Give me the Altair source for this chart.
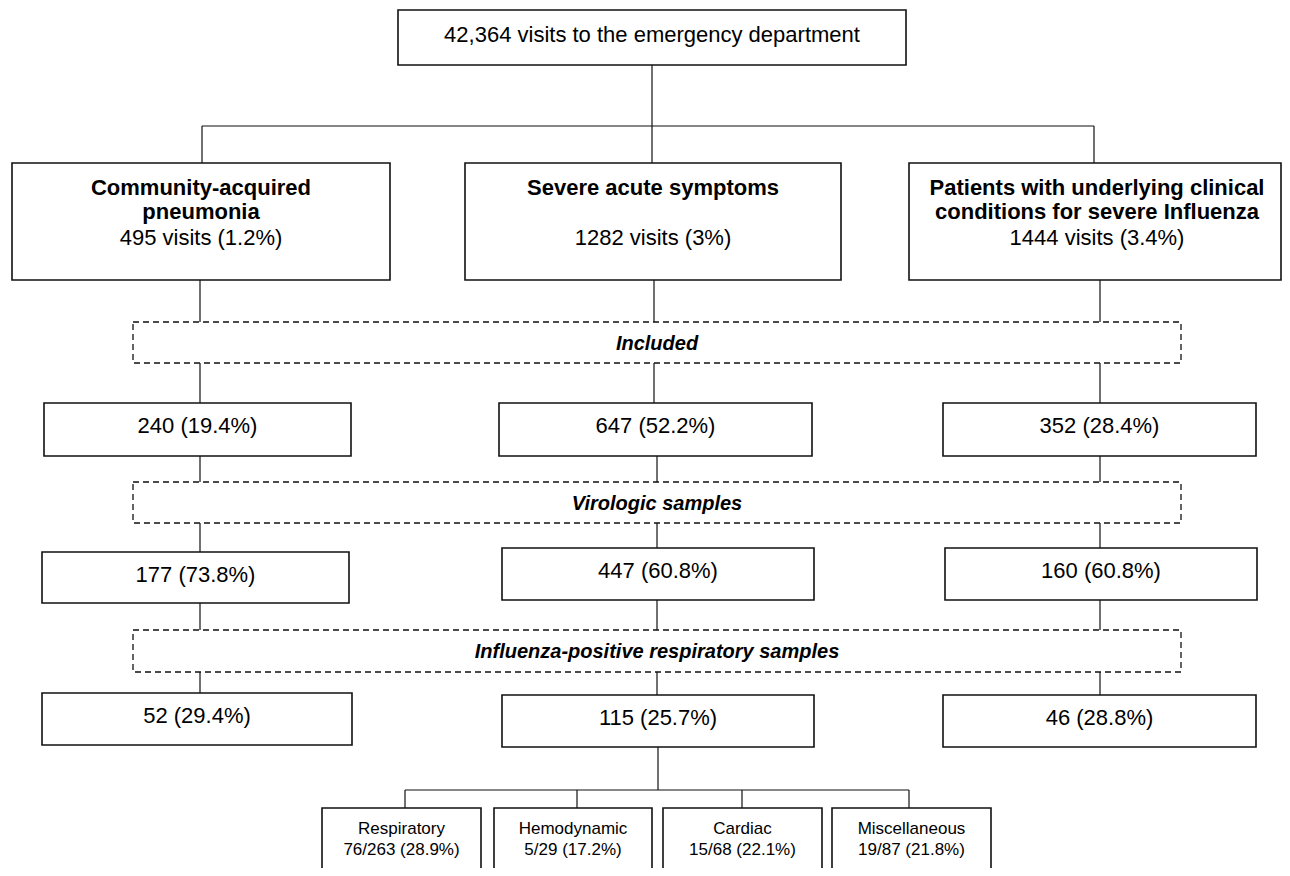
import altair as alt
import pandas as pd

# ---------------- data ----------------
top_label = "42,364 visits to the emergency department"
criteria_titles = ["Community-acquired\npneumonia",
                   "Severe acute symptoms",
                   "Patients with underlying clinical\nconditions for severe Influenza"]
criteria_visits = [495, 1282, 1444]
criteria_pct = ["1.2%", "3%", "3.4%"]
stage_labels = ["Included", "Virologic samples", "Influenza-positive respiratory samples"]
included_n = [240, 647, 352]
included_pct = ["19.4%", "52.2%", "28.4%"]
virologic_n = [177, 447, 160]
virologic_pct = ["73.8%", "60.8%", "60.8%"]
positive_n = [52, 115, 46]
positive_pct = ["29.4%", "25.7%", "28.8%"]
sub_names = ["Respiratory", "Hemodynamic", "Cardiac", "Miscellaneous"]
sub_pos = [76, 5, 15, 19]
sub_total = [263, 29, 68, 87]
sub_pct = ["28.9%", "17.2%", "22.1%", "21.8%"]

# ---------------- layout (page pixel units) ----------------
TOP_BOX = (398, 906, 10, 65)
CRIT_X = [(12, 390), (465, 841), (909, 1281)]
CRIT_Y = (163, 280)
STAGE_X = (133, 1181)
STAGE_Y = [(322, 363), (482, 523), (630, 672)]
ROW_X = [[(44, 351), (499, 812), (943, 1256)],
         [(42, 349), (502, 814), (945, 1257)],
         [(42, 352), (502, 814), (943, 1256)]]
ROW_Y = [[(403, 456), (403, 456), (403, 456)],
         [(552, 603), (548, 600), (548, 600)],
         [(693, 745), (695, 747), (695, 747)]]
SUB_X = [(322, 481), (494, 652), (663, 822), (832, 991)]
SUB_Y = (808, 900)
COL_LINE_X = [[200, 654, 1100], [200, 657, 1100]]

# ---------------- build tables ----------------
boxes = []
boxes.append(dict(x=TOP_BOX[0], x2=TOP_BOX[1], y=TOP_BOX[2], y2=TOP_BOX[3]))
for (a, b) in CRIT_X:
    boxes.append(dict(x=a, x2=b, y=CRIT_Y[0], y2=CRIT_Y[1]))
for r in range(3):
    for c in range(3):
        boxes.append(dict(x=ROW_X[r][c][0], x2=ROW_X[r][c][1],
                          y=ROW_Y[r][c][0], y2=ROW_Y[r][c][1]))
boxes_df = pd.DataFrame(boxes)

sub_df = pd.DataFrame([dict(x=a, x2=b, y=SUB_Y[0], y2=SUB_Y[1]) for (a, b) in SUB_X])

dashed_df = pd.DataFrame([dict(x=STAGE_X[0], x2=STAGE_X[1], y=a, y2=b) for (a, b) in STAGE_Y])

segs = []
cx_top = 652
segs.append((cx_top, TOP_BOX[3], cx_top, CRIT_Y[0]))
segs.append((202, 126, 1094, 126))
segs.append((202, 126, 202, CRIT_Y[0]))
segs.append((1094, 126, 1094, CRIT_Y[0]))
for c in range(3):
    x0 = COL_LINE_X[0][c]
    x1 = COL_LINE_X[1][c]
    segs.append((x0, CRIT_Y[1], x0, STAGE_Y[0][0]))
    segs.append((x0, STAGE_Y[0][1], x0, ROW_Y[0][c][0]))
    segs.append((x1, ROW_Y[0][c][1], x1, STAGE_Y[1][0]))
    segs.append((x1, STAGE_Y[1][1], x1, ROW_Y[1][c][0]))
    segs.append((x1, ROW_Y[1][c][1], x1, STAGE_Y[2][0]))
    segs.append((x1, STAGE_Y[2][1], x1, ROW_Y[2][c][0]))
segs.append((658, ROW_Y[2][1][1], 658, 790))
segs.append((405, 790, 909, 790))
for xv in [405, 577, 742, 909]:
    segs.append((xv, 790, xv, SUB_Y[0]))
segs_df = pd.DataFrame(segs, columns=["x", "y", "x2", "y2"])

# text tables
reg = [dict(x=(TOP_BOX[0] + TOP_BOX[1]) / 2, y=42, label=top_label)]
crit_cx = [201, 653, 1097]
for c in range(3):
    reg.append(dict(x=crit_cx[c], y=245, label=f"{criteria_visits[c]} visits ({criteria_pct[c]})"))
row_vals = [(included_n, included_pct), (virologic_n, virologic_pct), (positive_n, positive_pct)]
for r in range(3):
    ns, ps = row_vals[r]
    for c in range(3):
        cx = (ROW_X[r][c][0] + ROW_X[r][c][1]) / 2
        reg.append(dict(x=cx, y=ROW_Y[r][c][0] + 30, label=f"{ns[c]} ({ps[c]})"))
reg_df = pd.DataFrame(reg)

bold_df = pd.DataFrame([dict(x=crit_cx[c], y=195, label=criteria_titles[c]) for c in range(3)])

ital_df = pd.DataFrame([dict(x=657, y=STAGE_Y[i][0] + 28, label=stage_labels[i]) for i in range(3)])

small = []
for i in range(4):
    cx = (SUB_X[i][0] + SUB_X[i][1]) / 2
    small.append(dict(x=cx, y=834, label=sub_names[i]))
    small.append(dict(x=cx, y=855, label=f"{sub_pos[i]}/{sub_total[i]} ({sub_pct[i]})"))
small_df = pd.DataFrame(small)

# ---------------- chart ----------------
xs = alt.Scale(domain=[8, 1282], nice=False, zero=False)
ys = alt.Scale(domain=[8, 868], nice=False, zero=False, reverse=True)
FONT = "Liberation Sans"
INK = "#111111"


def XY(extra=True):
    enc = dict(x=alt.X("x:Q", scale=xs, axis=None),
               y=alt.Y("y:Q", scale=ys, axis=None))
    if extra:
        enc["x2"] = alt.X2("x2:Q")
        enc["y2"] = alt.Y2("y2:Q")
    return enc


lines = alt.Chart(segs_df).mark_rule(color=INK, strokeWidth=1.2).encode(**XY())
rects = alt.Chart(boxes_df).mark_rect(fill="white", stroke=INK, strokeWidth=1.6).encode(**XY())
subrects = alt.Chart(sub_df).mark_rect(fill="white", stroke=INK, strokeWidth=1.6, clip=True).encode(**XY())
dashed = alt.Chart(dashed_df).mark_rect(fill="white", stroke=INK, strokeWidth=1.3,
                                        strokeDash=[6, 4]).encode(**XY())

txt_reg = alt.Chart(reg_df).mark_text(font=FONT, fontSize=22, color="black", align="center",
                                      baseline="alphabetic").encode(text="label:N", **XY(False))
txt_bold = alt.Chart(bold_df).mark_text(font=FONT, fontSize=22, fontWeight="bold", color="black",
                                        align="center", baseline="alphabetic", lineBreak="\n",
                                        lineHeight=24).encode(text="label:N", **XY(False))
txt_ital = alt.Chart(ital_df).mark_text(font=FONT, fontSize=20, fontWeight="bold", fontStyle="italic",
                                        color="black", align="center",
                                        baseline="alphabetic").encode(text="label:N", **XY(False))
txt_small = alt.Chart(small_df).mark_text(font=FONT, fontSize=17, color="black", align="center",
                                          baseline="alphabetic").encode(text="label:N", **XY(False))

chart = alt.layer(lines, dashed, rects, subrects, txt_reg, txt_bold, txt_ital, txt_small).properties(
    width=1274, height=860, padding=0,
    autosize=alt.AutoSizeParams(type="none"),
    background="white",
).configure_view(stroke=None)

chart.save("out.html", embed_options={"renderer": "svg", "actions": False})
